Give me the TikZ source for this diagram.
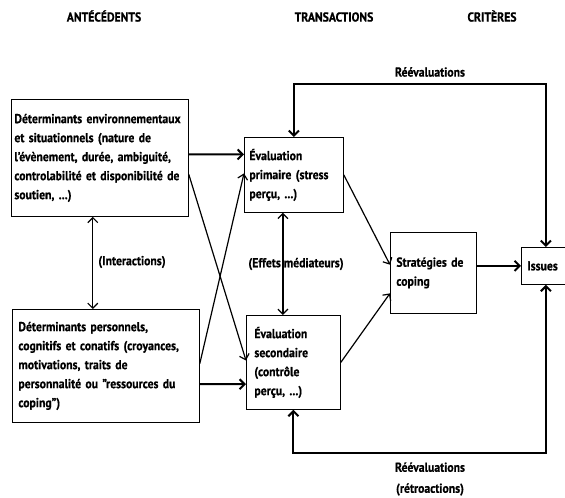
\documentclass[tikz,border=0pt]{standalone}
\usepackage{fontspec}
\setmainfont{PT Sans}[FakeStretch=0.9,BoldFeatures={FakeBold=0.6}]
\usetikzlibrary{positioning,calc,arrows.meta}

\begin{document}
\begin{tikzpicture}[x=1pt,y=-1pt,
	>={Straight Barb[length=5pt,width=10pt]},
	every node/.style={font=\bfseries\fontsize{13}{19}\selectfont},
	box/.style={draw,line width=0.8pt,anchor=north west,align=left,inner ysep=0pt},
	link/.style={line width=1.2pt},
	flow/.style={line width=2pt}]
	
	\useasboundingbox (0,0) rectangle (565,498);
	
	% titres des colonnes
	\node (hant) at (104,16) {ANTÉCÉDENTS};
	\node (htra) at (334,17) {TRANSACTIONS};
	\node (hcri) at (492,16) {CRITÈRES};
	
	% antecedents
	\node[box,minimum width=177pt,minimum height=117pt,inner xsep=3pt,text width=171pt] (env) at (11,99)
		{Déterminants environnementaux\\ et situationnels (nature de\\ l'évènement, durée, ambiguité,\\ controlabilité et disponibilité de\\ soutien, ...)};
	\node[box,minimum width=187pt,minimum height=113pt,inner xsep=6pt,text width=175pt] (pers) at (12,309)
		{Déterminants personnels,\\ cognitifs et conatifs (croyances,\\ motivations, traits de\\ personnalité ou "ressources du\\ coping")};
	
	% transactions
	\node[box,minimum width=99pt,minimum height=75pt,inner xsep=5pt,text width=89pt] (ep) at (244,137)
		{Évaluation\\ primaire (stress\\ perçu, ...)};
	\node[box,minimum width=94pt,minimum height=94pt,inner xsep=8pt,text width=78pt] (es) at (246,315)
		{Évaluation\\ secondaire\\ (contrôle\\ perçu, ...)};
	\node[box,minimum width=86pt,minimum height=81pt,inner xsep=6pt,text width=74pt] (strat) at (390,232)
		{Stratégies de\\ coping};
	
	% criteres
	\node[box,minimum width=49pt,minimum height=37pt,inner xsep=6pt,text width=37pt] (iss) at (521,247) {Issues};
	
	
	\draw[flow,->] ($(env.north east)!.47!(env.south east)$) -- ($(ep.north west)!.23!(ep.south west)$);
	\draw[link,->] ($(env.north east)!.64!(env.south east)$) -- ($(es.north west)!.48!(es.south west)$);
	\draw[link,->] ($(pers.north east)!.48!(pers.south east)$) -- ($(ep.north west)!.48!(ep.south west)$);
	\draw[flow,->] ($(pers.north east)!.66!(pers.south east)$) -- ($(es.north west)!.73!(es.south west)$);
	
	\draw[link,<->] ($(env.south west)!.46!(env.south east)$) coordinate (ia) -- (ia |- pers.north);
	\node (inter) at (132,262) {(Interactions)};
	
	\draw[link,<->] ($(ep.south west)!.39!(ep.south east)$) coordinate (ma) -- (ma |- es.north);
	\node (med) at (296,264) {(Effets médiateurs)};
	
	\draw[link,->] (ep.east) -- ($(strat.north west)!.4!(strat.south west)$);
	\draw[link,->] (es.east) -- ($(strat.north west)!.75!(strat.south west)$);
	\draw[flow,->] (strat.east |- iss.west) -- (iss.west);
	
	% boucles de reevaluation
	\draw[flow,<->] (ep.north) -- ++(0,-53) -| (iss.north);
	\node (reev) at (430,72) {Réévaluations};
	
	\draw[flow,<->] (es.south) -- ++(0,43) -| (iss.south);
	\node[align=center,font=\bfseries\fontsize{13}{21}\selectfont] (retro) at (430,479) {Réévaluations\\ (rétroactions)};
	
\end{tikzpicture}
\end{document}
